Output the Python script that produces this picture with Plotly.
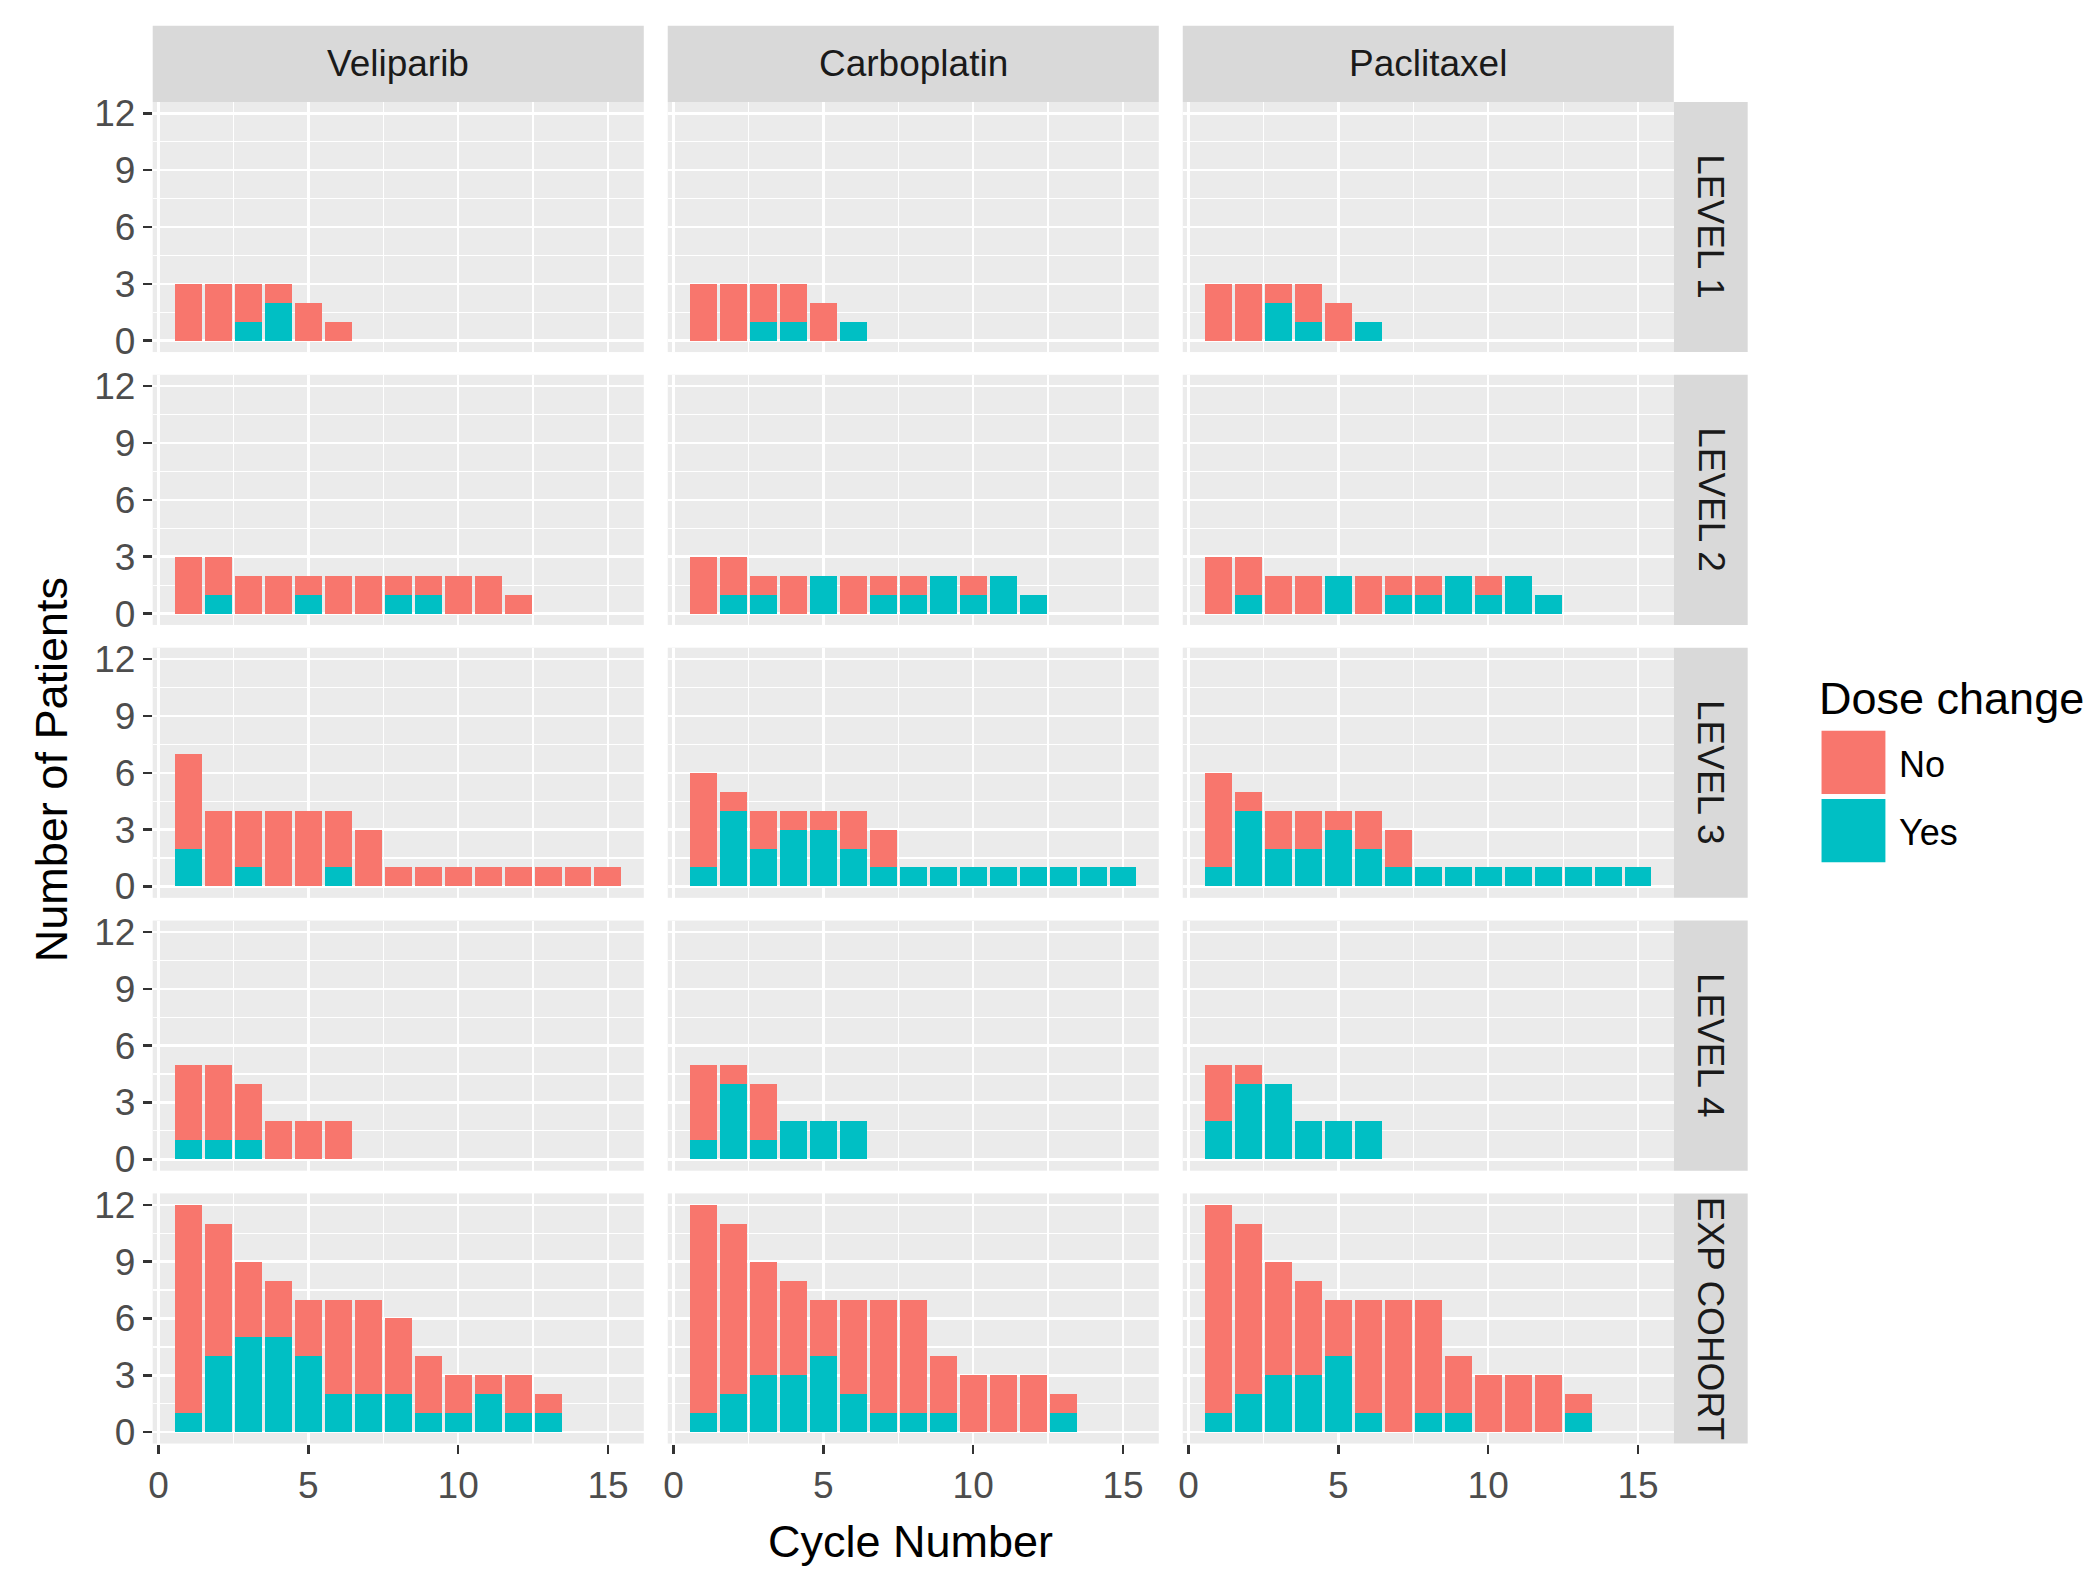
import plotly.graph_objects as go

# ---------------- data ----------------
drugs = ["Veliparib", "Carboplatin", "Paclitaxel"]
levels = ["LEVEL 1", "LEVEL 2", "LEVEL 3", "LEVEL 4", "EXP COHORT"]
dose_change = ["No", "Yes"]
x_ticks = [0, 5, 10, 15]
y_ticks = [0, 3, 6, 9, 12]

# total patients per cycle and patients with a dose change ("Yes")
l1_veliparib_total = [3, 3, 3, 3, 2, 1]
l1_veliparib_yes = [0, 0, 1, 2, 0, 0]
l1_carboplatin_total = [3, 3, 3, 3, 2, 1]
l1_carboplatin_yes = [0, 0, 1, 1, 0, 1]
l1_paclitaxel_total = [3, 3, 3, 3, 2, 1]
l1_paclitaxel_yes = [0, 0, 2, 1, 0, 1]

l2_veliparib_total = [3, 3, 2, 2, 2, 2, 2, 2, 2, 2, 2, 1]
l2_veliparib_yes = [0, 1, 0, 0, 1, 0, 0, 1, 1, 0, 0, 0]
l2_carboplatin_total = [3, 3, 2, 2, 2, 2, 2, 2, 2, 2, 2, 1]
l2_carboplatin_yes = [0, 1, 1, 0, 2, 0, 1, 1, 2, 1, 2, 1]
l2_paclitaxel_total = [3, 3, 2, 2, 2, 2, 2, 2, 2, 2, 2, 1]
l2_paclitaxel_yes = [0, 1, 0, 0, 2, 0, 1, 1, 2, 1, 2, 1]

l3_veliparib_total = [7, 4, 4, 4, 4, 4, 3, 1, 1, 1, 1, 1, 1, 1, 1]
l3_veliparib_yes = [2, 0, 1, 0, 0, 1, 0, 0, 0, 0, 0, 0, 0, 0, 0]
l3_carboplatin_total = [6, 5, 4, 4, 4, 4, 3, 1, 1, 1, 1, 1, 1, 1, 1]
l3_carboplatin_yes = [1, 4, 2, 3, 3, 2, 1, 1, 1, 1, 1, 1, 1, 1, 1]
l3_paclitaxel_total = [6, 5, 4, 4, 4, 4, 3, 1, 1, 1, 1, 1, 1, 1, 1]
l3_paclitaxel_yes = [1, 4, 2, 2, 3, 2, 1, 1, 1, 1, 1, 1, 1, 1, 1]

l4_veliparib_total = [5, 5, 4, 2, 2, 2]
l4_veliparib_yes = [1, 1, 1, 0, 0, 0]
l4_carboplatin_total = [5, 5, 4, 2, 2, 2]
l4_carboplatin_yes = [1, 4, 1, 2, 2, 2]
l4_paclitaxel_total = [5, 5, 4, 2, 2, 2]
l4_paclitaxel_yes = [2, 4, 4, 2, 2, 2]

exp_veliparib_total = [12, 11, 9, 8, 7, 7, 7, 6, 4, 3, 3, 3, 2]
exp_veliparib_yes = [1, 4, 5, 5, 4, 2, 2, 2, 1, 1, 2, 1, 1]
exp_carboplatin_total = [12, 11, 9, 8, 7, 7, 7, 7, 4, 3, 3, 3, 2]
exp_carboplatin_yes = [1, 2, 3, 3, 4, 2, 1, 1, 1, 0, 0, 0, 1]
exp_paclitaxel_total = [12, 11, 9, 8, 7, 7, 7, 7, 4, 3, 3, 3, 2]
exp_paclitaxel_yes = [1, 2, 3, 3, 4, 1, 0, 1, 1, 0, 0, 0, 1]

panels = [
    [(l1_veliparib_total, l1_veliparib_yes), (l1_carboplatin_total, l1_carboplatin_yes), (l1_paclitaxel_total, l1_paclitaxel_yes)],
    [(l2_veliparib_total, l2_veliparib_yes), (l2_carboplatin_total, l2_carboplatin_yes), (l2_paclitaxel_total, l2_paclitaxel_yes)],
    [(l3_veliparib_total, l3_veliparib_yes), (l3_carboplatin_total, l3_carboplatin_yes), (l3_paclitaxel_total, l3_paclitaxel_yes)],
    [(l4_veliparib_total, l4_veliparib_yes), (l4_carboplatin_total, l4_carboplatin_yes), (l4_paclitaxel_total, l4_paclitaxel_yes)],
    [(exp_veliparib_total, exp_veliparib_yes), (exp_carboplatin_total, exp_carboplatin_yes), (exp_paclitaxel_total, exp_paclitaxel_yes)],
]

# ---------------- style ----------------
W, H = 2100, 1589
COL_NO = "#F8766D"
COL_YES = "#00BFC4"
PANEL_BG = "#EBEBEB"
STRIP_BG = "#D9D9D9"
FONT = "Liberation Sans, Arial, sans-serif"
TICK_SIZE = 37
STRIP_SIZE = 37
TITLE_SIZE = 45

ROW_TOP0, ROW_PITCH, ROW_H = 94, 276, 253
COL_LEFT0, COL_PITCH, COL_W = 149, 516, 492
STRIP_TOP = 17
STRIP_W = 74


def px_x(v):
    return v / W


def px_y(v):
    return 1 - v / H


fig = go.Figure()
layout_axes = {}
shapes = []
annotations = []

for r, level in enumerate(levels):
    for c, drug in enumerate(drugs):
        idx = r * 3 + c + 1
        xs = "" if idx == 1 else str(idx)
        total, yes = panels[r][c]
        no = [t - y for t, y in zip(total, yes)]
        cycles = list(range(1, len(total) + 1))
        fig.add_trace(go.Bar(x=cycles, y=yes, width=0.9, marker=dict(color=COL_YES, line=dict(width=0)),
                             name="Yes", showlegend=False, xaxis="x" + xs, yaxis="y" + xs))
        fig.add_trace(go.Bar(x=cycles, y=no, width=0.9, marker=dict(color=COL_NO, line=dict(width=0)),
                             name="No", showlegend=False, xaxis="x" + xs, yaxis="y" + xs))

        top = ROW_TOP0 + r * ROW_PITCH
        bottom = top + ROW_H
        left = COL_LEFT0 + c * COL_PITCH
        right = left + COL_W

        bottom_row = r == len(levels) - 1
        left_col = c == 0
        layout_axes["xaxis" + xs] = dict(
            domain=[px_x(left), px_x(right)], anchor="y" + xs,
            range=[-0.195, 16.195], tickvals=x_ticks, showgrid=True, gridcolor="white", gridwidth=2.5,
            zeroline=False, showline=False,
            ticks="outside" if bottom_row else "", ticklen=9, tickwidth=2.5, tickcolor="#333333",
            showticklabels=bottom_row, tickfont=dict(family=FONT, size=TICK_SIZE, color="#4D4D4D"),
            minor=dict(tickvals=[2.5, 7.5, 12.5], showgrid=True, gridcolor="white", gridwidth=1.2, ticks=""),
            fixedrange=True,
        )
        layout_axes["yaxis" + xs] = dict(
            domain=[px_y(bottom), px_y(top)], anchor="x" + xs,
            range=[-0.6, 12.6], tickvals=y_ticks, showgrid=True, gridcolor="white", gridwidth=2.5,
            zeroline=False, showline=False,
            ticks="outside" if left_col else "", ticklen=9, tickwidth=2.5, tickcolor="#333333",
            showticklabels=left_col, tickfont=dict(family=FONT, size=TICK_SIZE, color="#4D4D4D"),
            minor=dict(tickvals=[1.5, 4.5, 7.5, 10.5], showgrid=True, gridcolor="white", gridwidth=1.2, ticks=""),
            fixedrange=True,
        )

        # top strips
        if r == 0:
            shapes.append(dict(type="rect", xref="paper", yref="paper", layer="below",
                               x0=px_x(left), x1=px_x(right), y0=px_y(top), y1=px_y(STRIP_TOP),
                               fillcolor=STRIP_BG, line=dict(width=0)))
            annotations.append(dict(xref="paper", yref="paper", x=px_x((left + right) / 2),
                                    y=px_y((top + STRIP_TOP) / 2), text=drug, showarrow=False,
                                    xanchor="center", yanchor="middle",
                                    font=dict(family=FONT, size=STRIP_SIZE, color="#1A1A1A")))
        # right strips
        if c == len(drugs) - 1:
            shapes.append(dict(type="rect", xref="paper", yref="paper", layer="below",
                               x0=px_x(right), x1=px_x(right + STRIP_W), y0=px_y(bottom), y1=px_y(top),
                               fillcolor=STRIP_BG, line=dict(width=0)))
            annotations.append(dict(xref="paper", yref="paper", x=px_x(right + STRIP_W / 2),
                                    y=px_y((top + bottom) / 2), text=level, showarrow=False, textangle=90,
                                    xanchor="center", yanchor="middle",
                                    font=dict(family=FONT, size=STRIP_SIZE, color="#1A1A1A")))

# axis titles
annotations.append(dict(xref="paper", yref="paper", x=px_x(908), y=px_y(1550), text="Cycle Number",
                        showarrow=False, xanchor="center", yanchor="middle",
                        font=dict(family=FONT, size=TITLE_SIZE, color="#000000")))
annotations.append(dict(xref="paper", yref="paper", x=px_x(47), y=px_y(769), text="Number of Patients",
                        showarrow=False, xanchor="center", yanchor="middle", textangle=-90,
                        font=dict(family=FONT, size=TITLE_SIZE, color="#000000")))

# legend (drawn)
annotations.append(dict(xref="paper", yref="paper", x=px_x(1816), y=px_y(697), text="Dose change",
                        showarrow=False, xanchor="left", yanchor="middle",
                        font=dict(family=FONT, size=TITLE_SIZE, color="#000000")))
legend_keys = [("No", COL_NO, 730), ("Yes", COL_YES, 799)]
for label, col, ky in legend_keys:
    shapes.append(dict(type="rect", xref="paper", yref="paper",
                       x0=px_x(1821), x1=px_x(1885), y0=px_y(ky + 64), y1=px_y(ky),
                       fillcolor=col, line=dict(width=0)))
    annotations.append(dict(xref="paper", yref="paper", x=px_x(1897), y=px_y(ky + 34), text=label,
                            showarrow=False, xanchor="left", yanchor="middle",
                            font=dict(family=FONT, size=36, color="#000000")))

fig.update_layout(
    width=W, height=H, margin=dict(l=0, r=0, t=0, b=0, pad=0),
    barmode="stack", bargap=0,
    plot_bgcolor=PANEL_BG, paper_bgcolor="white",
    shapes=shapes, annotations=annotations, showlegend=False,
    font=dict(family=FONT),
    **layout_axes,
)

fig.write_html("out.html", config={"displayModeBar": False, "staticPlot": True},
               post_script="document.body.style.margin='0';document.body.style.overflow='hidden';")
